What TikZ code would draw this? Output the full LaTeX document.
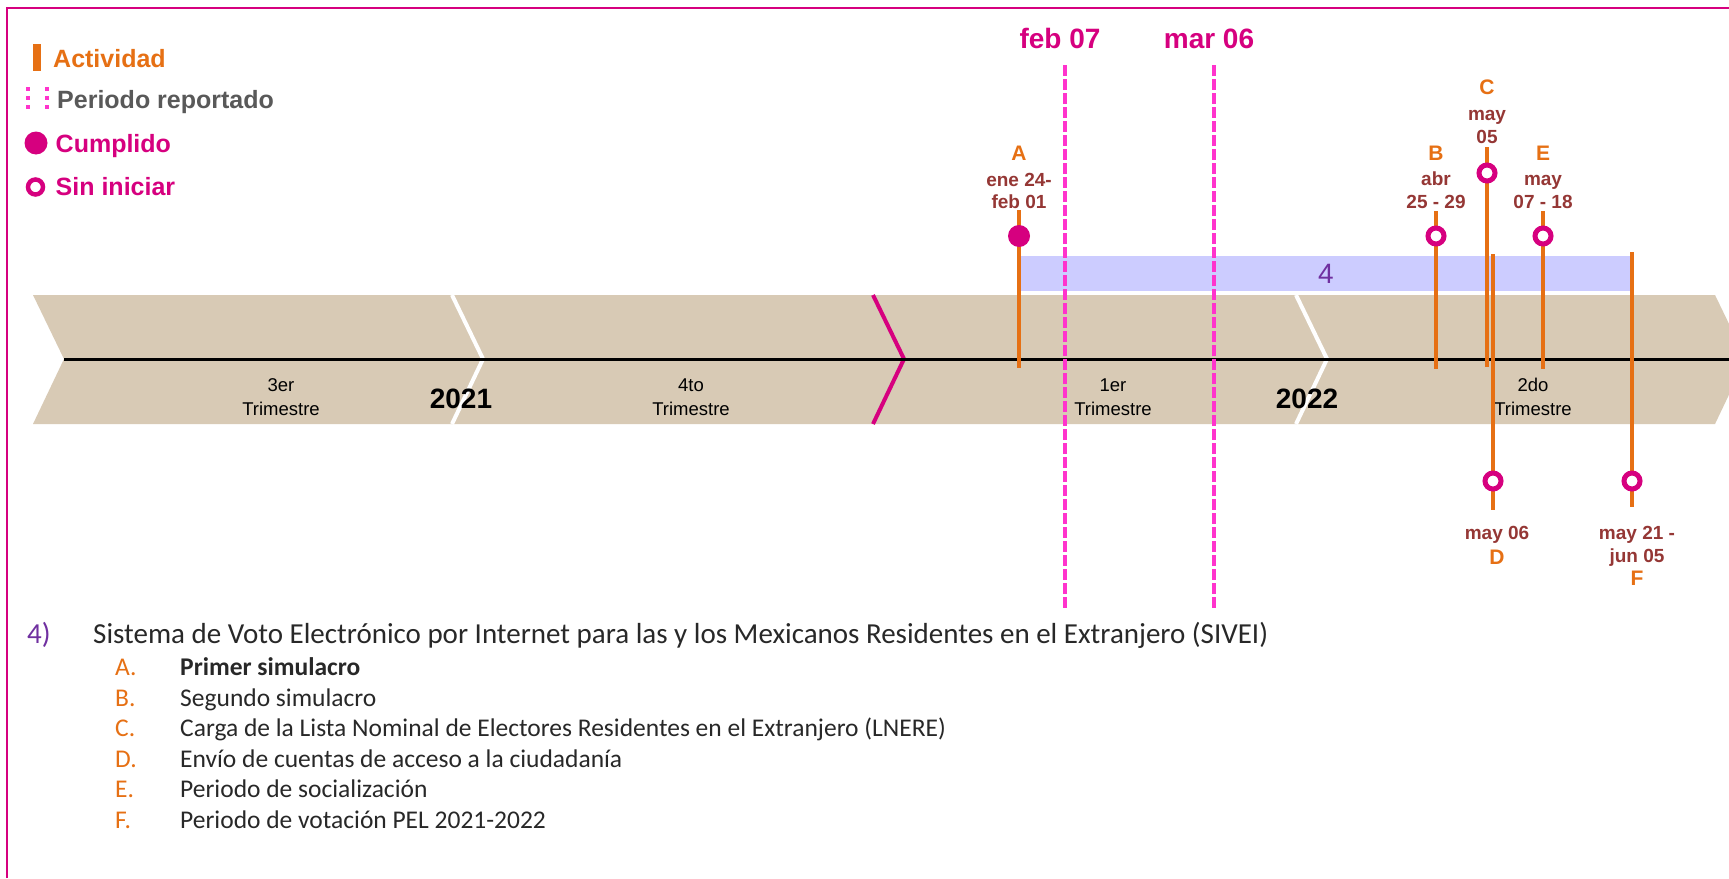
\documentclass[tikz,border=0pt]{standalone}
\usepackage{fontspec}
\setmainfont{Liberation Sans}
\newfontfamily\calfont{Carlito}
\definecolor{orng}{RGB}{230,112,20}
\definecolor{dred}{RGB}{149,55,53}
\definecolor{mgnt}{RGB}{214,0,127}
\definecolor{pnk}{RGB}{255,51,204}
\definecolor{tanband}{RGB}{216,202,181}
\definecolor{lblue}{RGB}{204,204,255}
\definecolor{purp}{RGB}{112,48,160}
\definecolor{gry}{RGB}{89,89,89}
\definecolor{txt}{RGB}{40,40,40}
\begin{document}
\begin{tikzpicture}[x=1pt,y=-1pt,
  datelbl/.style={text=dred,font=\bfseries\fontsize{19}{23}\selectfont,inner sep=0pt,anchor=base},
  letlbl/.style={text=orng,font=\bfseries\fontsize{21}{24}\selectfont,inner sep=0pt,anchor=base},
  bandlbl/.style={text=black,font=\fontsize{18.5}{22}\selectfont,inner sep=0pt,anchor=base},
  yearlbl/.style={text=black,font=\bfseries\fontsize{28}{32}\selectfont,inner sep=0pt,anchor=base},
  datehead/.style={text=mgnt,font=\bfseries\fontsize{28}{32}\selectfont,inner sep=0pt,anchor=base},
  legtxt/.style={font=\bfseries\fontsize{25}{28}\selectfont,inner sep=0pt,anchor=base west},
  ringmk/.style={circle,draw=mgnt,line width=5pt,fill=white,minimum size=16pt,inner sep=0pt},
  fillmk/.style={circle,fill=mgnt,minimum size=22pt,inner sep=0pt},
  actline/.style={draw=orng,line width=4.5pt},
  perline/.style={draw=pnk,line width=4pt,dash pattern=on 10.5pt off 3.5pt},
  listtxt/.style={text=txt,font=\calfont\fontsize{25.5}{28}\selectfont,inner sep=0pt,anchor=base west},
  listlet/.style={text=orng,font=\calfont\fontsize{25.5}{28}\selectfont,inner sep=0pt,anchor=base west},
  sepline/.style={line width=4pt},
]
\useasboundingbox (0,0) rectangle (1729,878);
\clip (0,0) rectangle (1729,878);
\fill[white] (0,0) rectangle (1729,878);
% frame
\draw[mgnt,line width=2pt] (7,878) -- (7,8) -- (1729,8);
% band
\fill[tanband] (33,295) -- (1715,295) -- (1746,359) -- (1715,424) -- (33,424) -- (64,359) -- cycle;
\draw[white,sepline] (452,295) -- (483,359) -- (452,424);
\draw[mgnt,sepline] (873,295) -- (904,359) -- (873,424);
\draw[white,sepline] (1296,295) -- (1327,359) -- (1296,424);
\coordinate (axisL) at (64,359);
\coordinate (axisR) at (1729,359);
\draw[black,line width=3pt] (axisL) -- (axisR);
% band labels
\node[bandlbl] (q3a) at (281,391) {3er};
\node[bandlbl] (q3b) at (281,415) {Trimestre};
\node[bandlbl] (q4a) at (691,391) {4to};
\node[bandlbl] (q4b) at (691,415) {Trimestre};
\node[bandlbl] (q1a) at (1113,391) {1er};
\node[bandlbl] (q1b) at (1113,415) {Trimestre};
\node[bandlbl] (q2a) at (1533,391) {2do};
\node[bandlbl] (q2b) at (1533,415) {Trimestre};
\node[yearlbl] (y21) at (461,408) {2021};
\node[yearlbl] (y22) at (1307,408) {2022};
% blue bar
\fill[lblue] (1019,256) rectangle (1632,291);
\node[text=purp,font=\fontsize{28}{32}\selectfont,inner sep=0pt,anchor=base] (four) at (1326,283) {4};
% reported period
\node[datehead] (feb) at (1060,48) {feb 07};
\node[datehead] (mar) at (1209,48) {mar 06};
\coordinate (p1t) at (1065,65); \coordinate (p1b) at (1065,610);
\coordinate (p2t) at (1214,65); \coordinate (p2b) at (1214,610);
\draw[perline] (p1t) -- (p1b);
\draw[perline] (p2t) -- (p2b);
% markers
\coordinate (Atop) at (1019,210); \coordinate (Abot) at (1019,368);
\coordinate (Btop) at (1436,211); \coordinate (Bbot) at (1436,369);
\coordinate (Ctop) at (1487,147); \coordinate (Cbot) at (1487,367);
\coordinate (Etop) at (1543,211); \coordinate (Ebot) at (1543,369);
\coordinate (Dtop) at (1493,254); \coordinate (Dbot) at (1493,510);
\coordinate (Ftop) at (1632,252); \coordinate (Fbot) at (1632,507);
\draw[actline] (Atop) -- (Abot);
\draw[actline] (Btop) -- (Bbot);
\draw[actline] (Ctop) -- (Cbot);
\draw[actline] (Etop) -- (Ebot);
\draw[actline] (Dtop) -- (Dbot);
\draw[actline] (Ftop) -- (Fbot);
\node[fillmk] (Amk) at (1019,236) {};
\node[ringmk] (Bmk) at (1436,236) {};
\node[ringmk] (Cmk) at (1487,173) {};
\node[ringmk] (Emk) at (1543,236) {};
\node[ringmk] (Dmk) at (1493,481) {};
\node[ringmk] (Fmk) at (1632,481) {};
% marker labels
\node[letlbl] (Al) at (1019,160.5) {A};
\node[datelbl] (Ad1) at (1019,186) {ene 24-};
\node[datelbl] (Ad2) at (1019,208) {feb 01};
\node[letlbl] (Bl) at (1436,160.5) {B};
\node[datelbl] (Bd1) at (1436,185) {abr};
\node[datelbl] (Bd2) at (1436,208) {25 - 29};
\node[letlbl] (Cl) at (1487,94.5) {C};
\node[datelbl] (Cd1) at (1487,120) {may};
\node[datelbl] (Cd2) at (1487,143) {05};
\node[letlbl] (El) at (1543,160.5) {E};
\node[datelbl] (Ed1) at (1543,185) {may};
\node[datelbl] (Ed2) at (1543,208) {07 - 18};
\node[datelbl] (Dd1) at (1497,539) {may 06};
\node[letlbl] (Dl) at (1497,564.5) {D};
\node[datelbl] (Fd1) at (1637,539) {may 21 -};
\node[datelbl] (Fd2) at (1637,562) {jun 05};
\node[letlbl] (Fl) at (1637,585.5) {F};
% legend
\fill[orng] (33,44) rectangle (41,71);
\node[legtxt,text=orng] (leg1) at (53,67) {Actividad};
\foreach \yy in {89,98,107} {
  \fill[pnk] (25.5,\yy-2) rectangle ++(4,4);
  \fill[pnk] (44.5,\yy-2) rectangle ++(4,4);
}
\node[legtxt,text=gry] (leg2) at (57,108) {Periodo reportado};
\node[fillmk,minimum size=23pt] (leg3mk) at (36,143) {};
\node[legtxt,text=mgnt] (leg3) at (55.5,152) {Cumplido};
\node[ringmk,minimum size=15pt,line width=4.5pt] (leg4mk) at (35.5,187) {};
\node[legtxt,text=mgnt] (leg4) at (55.5,195) {Sin iniciar};
% list
\node[text=purp,font=\calfont\fontsize{29}{32}\selectfont,inner sep=0pt,anchor=base west] (num) at (27,643) {4)};
\node[text=txt,font=\calfont\fontsize{29}{32}\selectfont,inner sep=0pt,anchor=base west] (title) at (93,643) {Sistema de Voto Electrónico por Internet para las y los Mexicanos Residentes en el Extranjero (SIVEI)};
\node[listlet] (lA) at (115,675.5) {A.};
\node[listtxt,font=\calfont\bfseries\fontsize{25.5}{28}\selectfont] (tA) at (180,675.5) {Primer simulacro};
\node[listlet] (lB) at (115,706) {B.};
\node[listtxt] (tB) at (180,706) {Segundo simulacro};
\node[listlet] (lC) at (115,736.5) {C.};
\node[listtxt] (tC) at (180,736.5) {Carga de la Lista Nominal de Electores Residentes en el Extranjero (LNERE)};
\node[listlet] (lD) at (115,767) {D.};
\node[listtxt] (tD) at (180,767) {Envío de cuentas de acceso a la ciudadanía};
\node[listlet] (lE) at (115,797.5) {E.};
\node[listtxt] (tE) at (180,797.5) {Periodo de socialización};
\node[listlet] (lF) at (115,828) {F.};
\node[listtxt] (tF) at (180,828) {Periodo de votación PEL 2021-2022};
\end{tikzpicture}
\end{document}
